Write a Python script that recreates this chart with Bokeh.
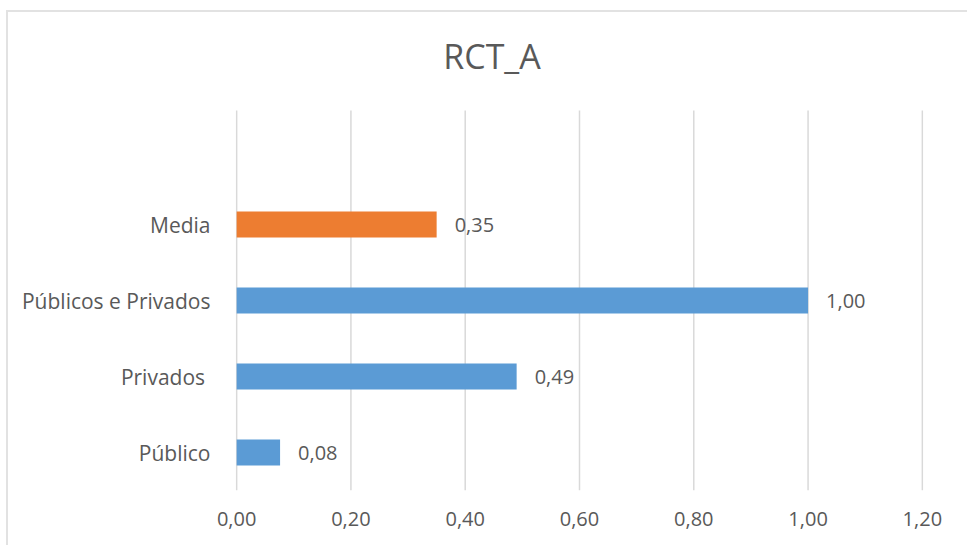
from bokeh.plotting import figure
from bokeh.models import ColumnDataSource, FixedTicker, CustomJSTickFormatter, Range1d
from bokeh.core.properties import value
from bokeh.embed import file_html
from bokeh.resources import INLINE

# ---- data ----
categories = ["Público", "Privados ", "Públicos e Privados", "Media"]
values = [0.076, 0.49, 1.00, 0.35]
bar_colors = ["#5B9BD5", "#5B9BD5", "#5B9BD5", "#ED7D31"]
x_ticks = [0.0, 0.2, 0.4, 0.6, 0.8, 1.0, 1.2]
title_text = "RCT_A"

value_labels = [f"{v:.2f}".replace(".", ",") for v in values]
positions = list(range(len(categories)))

FONT = "Open Sans"
TXT = "#595959"

# ---- layout constants (pixels) ----
W, H = 961, 535
LEFT, RIGHT, BOTTOM = 227, 46, 57
FRAME_W = W - LEFT - RIGHT
FRAME_H = H - BOTTOM
PX_PER_CAT = 76.0
X0, X1 = -0.002, 1.202
Y0 = -0.5
Y1 = Y0 + FRAME_H / PX_PER_CAT
GRID_TOP = len(categories) + 0.5
px_per_x = FRAME_W / (X1 - X0)
title_x = X0 + (483.5 - LEFT) / px_per_x
title_y = Y0 + (FRAME_H - 43) / PX_PER_CAT

p = figure(width=W, height=H, output_backend="svg", toolbar_location=None, title=None,
           x_range=Range1d(X0, X1), y_range=Range1d(Y0, Y1),
           min_border_left=LEFT, min_border_right=RIGHT,
           min_border_top=0, min_border_bottom=BOTTOM)

# vertical gridlines at the x ticks
p.segment(x0=x_ticks, y0=[Y0] * len(x_ticks), x1=x_ticks, y1=[GRID_TOP] * len(x_ticks),
          line_color="#D9D9D9", line_width=1.5)

src = ColumnDataSource(dict(y=positions, v=values, c=bar_colors, lab=value_labels))
p.hbar(y="y", left=0, right="v", height=0.34, fill_color="c", line_color=None, source=src)
p.text(x="v", y="y", text="lab", x_offset=18, text_baseline="middle", text_align="left",
       text_font=value(FONT), text_font_size="20px", text_color=TXT, source=src)

# title
p.text(x=[title_x], y=[title_y], text=[title_text], text_align="center",
       text_baseline="alphabetic", text_font=value(FONT), text_font_size="34px",
       text_color=TXT)

# x axis
p.xaxis.ticker = FixedTicker(ticks=x_ticks)
p.xaxis.formatter = CustomJSTickFormatter(code="return tick.toFixed(2).replace('.', ',');")
p.xaxis.axis_line_color = None
p.xaxis.major_tick_line_color = None
p.xaxis.minor_tick_line_color = None
p.xaxis.major_label_standoff = 15
p.xaxis.major_label_text_font = FONT
p.xaxis.major_label_text_font_size = "20px"
p.xaxis.major_label_text_color = TXT

# y axis
p.yaxis.ticker = FixedTicker(ticks=positions)
p.yaxis.major_label_overrides = {i: c for i, c in zip(positions, categories)}
p.yaxis.axis_line_color = None
p.yaxis.major_tick_line_color = None
p.yaxis.minor_tick_line_color = None
p.yaxis.major_label_standoff = 19
p.yaxis.major_label_text_font = FONT
p.yaxis.major_label_text_font_size = "21px"
p.yaxis.major_label_text_color = TXT

p.xgrid.grid_line_color = None
p.ygrid.grid_line_color = None
p.outline_line_color = None
p.styles = {"margin-left": "6px", "margin-top": "10px",
            "border-left": "2px solid #E2E2E2", "border-top": "2px solid #E2E2E2"}

open("out.html", "w").write(file_html(p, INLINE))
